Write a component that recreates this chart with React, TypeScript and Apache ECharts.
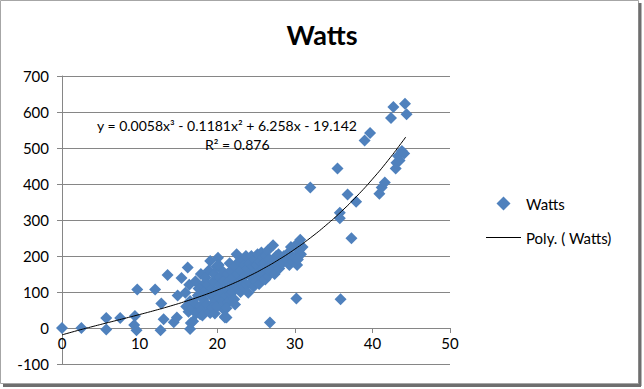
import React, { useEffect, useRef } from "react";
import * as echarts from "echarts";

const TITLE = "Watts";
const SERIES_NAME = "Watts";
const TREND_NAME = "Poly. ( Watts)";
const EQUATION = "y = 0.0058x³ - 0.1181x² + 6.258x - 19.142";
const R_SQUARED = "R² = 0.876";

const X_MIN = 0;
const X_MAX = 50;
const X_STEP = 10;
const Y_MIN = -100;
const Y_MAX = 700;
const Y_STEP = 100;

// scatter points [speed, watts]
const sparseLow: number[][] = [
  [0, 0], [2.5, 0], [5.7, 28], [5.7, -4], [7.5, 28], [9.4, 33], [9.3, 8], [9.6, -6],
  [9.7, 107], [12, 107], [12.8, 68], [13.6, 147], [13.1, 24], [12.7, -6], [14.4, 16],
  [15.4, 139], [16.2, 168], [14.9, 90], [15.9, 98], [16.6, 14], [16.5, -3], [16.9, 19],
  [17.8, 38], [19.1, 42], [21.2, 29], [17.9, 150], [18.3, 122], [19.1, 186], [14.8, 29],
];

const cluster: number[][] = [
  [16, 60], [16.3, 45], [16.5, 75], [16.8, 55], [16.4, 120],
  [17, 70], [17.3, 40], [17.5, 90], [17.6, 110], [17.8, 60], [17.2, 130],
  [18, 50], [18.2, 80], [18.4, 100], [18.5, 140], [18.7, 65], [18.8, 120], [18.9, 160], [18.1, 35],
  [19, 45], [19.2, 90], [19.3, 110], [19.5, 70], [19.5, 130], [19.6, 150], [19.8, 100], [19.9, 170], [19.4, 55], [19.7, 40],
  [20, 60], [20.1, 195], [20.2, 85], [20.3, 120], [20.4, 140], [20.5, 100], [20.6, 160], [20.7, 75], [20.8, 130], [20.9, 50], [20.2, 175],
  [21, 32], [21.1, 90], [21.2, 110], [21.3, 150], [21.4, 70], [21.5, 130], [21.6, 180], [21.7, 95], [21.8, 160], [21.9, 120], [21.2, 55],
  [22, 100], [22.1, 140], [22.2, 80], [22.3, 170], [22.5, 205], [22.4, 120], [22.6, 150], [22.7, 110], [22.8, 185], [22.9, 130], [22.3, 65],
  [23, 100], [23.1, 160], [23.2, 130], [23.3, 190], [23.4, 115], [23.5, 175], [23.6, 145], [23.7, 200], [23.8, 120], [23.9, 165],
  [24, 98], [24.1, 150], [24.2, 180], [24.3, 125], [24.4, 200], [24.5, 140], [24.6, 170], [24.7, 115], [24.8, 190], [24.9, 155],
  [25, 130], [25.1, 175], [25.2, 205], [25.3, 150], [25.4, 122], [25.5, 185], [25.6, 160], [25.7, 210], [25.8, 140], [25.9, 195],
  [26, 150], [26.1, 180], [26.2, 135], [26.3, 200], [26.4, 165], [26.5, 215], [26.6, 145], [26.7, 190], [26.8, 170], [26.9, 155],
  [27, 160], [27.2, 230], [27.3, 185], [27.4, 150], [27.6, 200], [27.8, 175], [27.9, 205],
  [28, 165], [28.2, 190], [28.4, 180], [28.6, 200],
  [29, 190], [29.2, 210], [29.3, 175], [29.5, 225], [29.6, 200], [29.8, 185],
  [30, 195], [30.2, 232], [30.3, 175], [30.5, 215], [30.7, 245], [30.8, 205], [31, 225], [30.4, 190],
];

const sparseHigh: number[][] = [
  [21, 29], [26.8, 15], [30.2, 82], [32, 390], [35.5, 443], [35.9, 80],
  [35.8, 320], [35.8, 305], [36.8, 371], [37.9, 351], [37.3, 249],
  [39, 521], [39.7, 542], [42.4, 583], [42.7, 614], [44.2, 623], [44.4, 594],
  [40.9, 373], [41.2, 390], [41.6, 404],
  [43, 443], [43.1, 459], [43.3, 478], [43.8, 492], [44.1, 485], [43.5, 465],
];

// polynomial trend curve points [x, y] as drawn
const trendX: number[] = [0, 2, 4, 6, 8, 10, 12, 14, 16, 18, 20, 22, 24, 26, 28, 30, 32, 34, 36, 38, 40, 42, 44, 44.3];
const trendY: number[] = [-19.14, -7.05, 4.37, 15.41, 26.33, 37.43, 48.97, 61.24, 74.51, 89.06, 105.18, 123.13, 143.2, 165.67, 190.81, 218.91, 250.23, 285.07, 323.69, 366.38, 413.42, 465.08, 521.64, 530.56];

const FONT = "Lato, 'Noto Sans', sans-serif";
const BLUE = "#4F81BD";

export default function App() {
  const ref = useRef<HTMLDivElement>(null);
  useEffect(() => {
    document.body.style.margin = "0";
    if (!ref.current) return;
    const chart = echarts.init(ref.current, null, { renderer: "svg" });
    const points = [...sparseLow, ...cluster, ...sparseHigh];
    const trend = trendX.map((x, i) => [x, trendY[i]]);
    chart.setOption({
      animation: false,
      backgroundColor: "#ffffff",
      title: {
        text: TITLE,
        left: "center",
        top: 16,
        textStyle: { fontFamily: FONT, fontSize: 27, fontWeight: "bold", color: "#000" },
      },
      grid: { left: 62, right: 194, top: 76, bottom: 25, containLabel: false },
      legend: {
        orient: "vertical",
        left: 486,
        top: 196,
        padding: 0,
        itemWidth: 35,
        itemHeight: 14,
        itemGap: 19,
        symbolKeepAspect: true,
        textStyle: { fontFamily: FONT, fontSize: 15, color: "#000" },
        data: [
          { name: SERIES_NAME, icon: "path://M0,-6L6,0L0,6L-6,0Z", itemStyle: { color: BLUE } },
          { name: TREND_NAME, icon: "path://M0,0L35,0L35,1.2L0,1.2Z", itemStyle: { color: "#000" } },
        ],
      },
      xAxis: {
        type: "value",
        min: X_MIN,
        max: X_MAX,
        interval: X_STEP,
        offset: -36,
        axisLine: { onZero: false, lineStyle: { color: "#868686", width: 1 } },
        axisTick: { show: true, inside: false, length: 5, lineStyle: { color: "#868686" } },
        axisLabel: { fontFamily: FONT, fontSize: 15, color: "#000", margin: 7 },
        splitLine: { show: false },
      },
      yAxis: {
        type: "value",
        min: Y_MIN,
        max: Y_MAX,
        interval: Y_STEP,
        axisLine: { show: true, lineStyle: { color: "#868686", width: 1 } },
        axisTick: { show: true, inside: false, length: 5, lineStyle: { color: "#868686" } },
        axisLabel: { fontFamily: FONT, fontSize: 15, color: "#000", margin: 13 },
        splitLine: { show: true, lineStyle: { color: "#868686", width: 1 } },
      },
      series: [
        {
          name: SERIES_NAME,
          type: "scatter",
          symbol: "diamond",
          symbolSize: 12,
          itemStyle: { color: BLUE, opacity: 1 },
          data: points,
          z: 2,
        },
        {
          name: TREND_NAME,
          type: "line",
          smooth: true,
          symbol: "none",
          lineStyle: { color: "#000", width: 1 },
          data: trend,
          z: 3,
        },
      ],
      graphic: [
        {
          type: "text",
          left: 97,
          top: 118,
          z: 10,
          style: { text: EQUATION, font: `14px ${FONT}`, fill: "#000" },
        },
        {
          type: "text",
          left: 205,
          top: 137,
          z: 10,
          style: { text: R_SQUARED, font: `14px ${FONT}`, fill: "#000" },
        },
        {
          type: "rect",
          shape: { x: 0.5, y: 0.5, width: 638, height: 383 },
          style: { fill: "none", stroke: "#a6a6a6", lineWidth: 1 },
          silent: true,
        },
        {
          type: "line",
          shape: { x1: 640, y1: 3, x2: 640, y2: 386 },
          style: { stroke: "#6e6e6e", lineWidth: 3 },
          silent: true,
        },
        {
          type: "line",
          shape: { x1: 3, y1: 385.5, x2: 641, y2: 385.5 },
          style: { stroke: "#6e6e6e", lineWidth: 3 },
          silent: true,
        },
      ],
    });
    return () => chart.dispose();
  }, []);
  return <div ref={ref} style={{ width: 644, height: 389 }} />;
}
